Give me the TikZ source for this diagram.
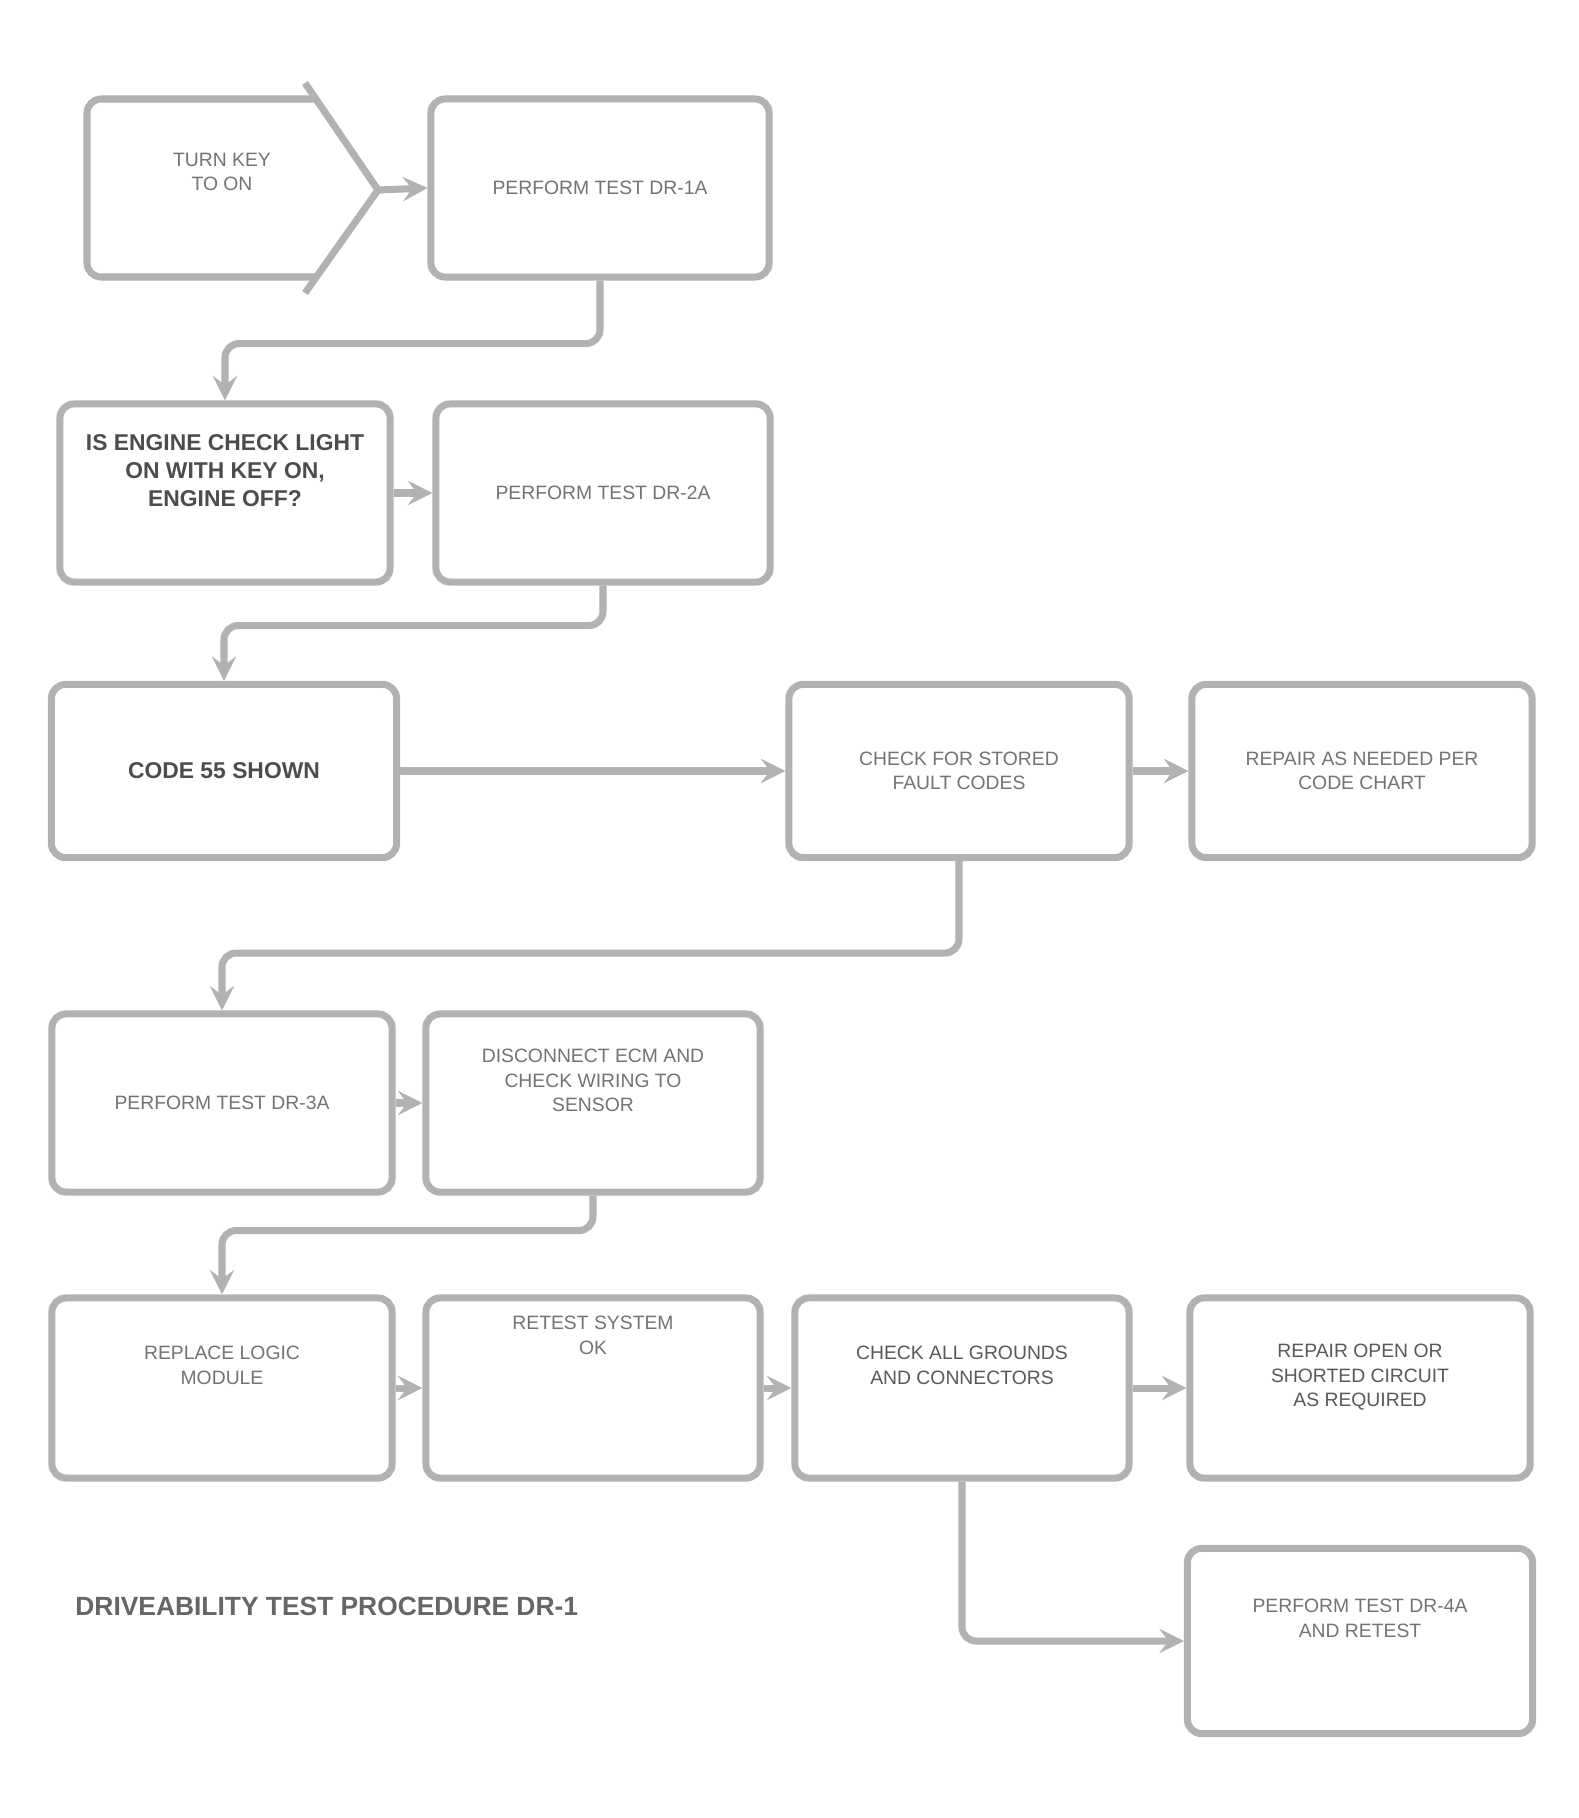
\documentclass[tikz,border=0pt]{standalone}
\usepackage{fontspec}
\setmainfont{Liberation Sans}
\usetikzlibrary{arrows,positioning,calc}

\begin{document}
\begin{tikzpicture}[x=0.01cm, y=-0.01cm,
    box/.style={draw=black!30, line width=2pt, rounded corners=4pt, align=center,
        text=black!55, font=\fontsize{5.5}{7}\selectfont,
        minimum width=3.38cm, minimum height=1.78cm, inner sep=2pt},
    keybox/.style={box, text=black!70, font=\fontsize{6.5}{8}\selectfont\bfseries},
    uptext/.style={text depth=0.45cm},
    flow/.style={draw=black!30, line width=2pt, rounded corners=4pt, ->, >=stealth}]

    % Page
    \fill[white] (0,0) rectangle (1579,1818);
    \useasboundingbox (0,0) rectangle (1579,1818);

    % Start symbol
    \draw[draw=black!30, line width=2pt, rounded corners=4pt] (316,99) -- (87,99) -- (87,277) -- (316,277);
    \draw[draw=black!30, line width=2pt] (305,83) -- (378,190) -- (305,293);
    \coordinate (tip) at (378,190);
    \node[align=center, text=black!55, font=\fontsize{5.5}{7}\selectfont] (start) at (222,172) {TURN KEY\\TO ON};

    % Row 1 and 2
    \node[box] (b2) at (600,188) {PERFORM TEST DR-1A};
    \node[keybox, uptext, minimum width=3.3cm] (b3) at (225,493) {IS ENGINE CHECK LIGHT\\ON WITH KEY ON,\\ENGINE OFF?};
    \node[box, minimum width=3.34cm] (b4) at (603,493) {PERFORM TEST DR-2A};

    % Row 3
    \node[keybox, minimum width=3.45cm, minimum height=1.73cm] (b5) at (224,771) {CODE 55 SHOWN};
    \node[box, minimum width=3.4cm, minimum height=1.73cm] (b6) at (959,771) {CHECK FOR STORED\\FAULT CODES};
    \node[box, minimum width=3.4cm, minimum height=1.73cm] (b7) at (1362,771) {REPAIR AS NEEDED PER\\CODE CHART};

    % Row 4
    \node[box, minimum width=3.4cm] (b8) at (222,1103) {PERFORM TEST DR-3A};
    \node[box, uptext, minimum width=3.34cm] (b9) at (593,1103) {DISCONNECT ECM AND\\CHECK WIRING TO\\SENSOR};

    % Row 5
    \node[box, uptext, minimum width=3.4cm, minimum height=1.8cm] (b10) at (222,1388) {REPLACE LOGIC\\MODULE};
    \node[box, text depth=1.05cm, minimum width=3.34cm, minimum height=1.8cm] (b11) at (593,1388) {RETEST SYSTEM\\OK};
    \node[box, uptext, minimum width=3.34cm, minimum height=1.8cm, text=black!65] (b12) at (962,1388) {CHECK ALL GROUNDS\\AND CONNECTORS};
    \node[box, text depth=0.25cm, minimum width=3.4cm, minimum height=1.8cm, text=black!65] (b13) at (1360,1388) {REPAIR OPEN OR\\SHORTED CIRCUIT\\AS REQUIRED};
    \node[box, uptext, minimum width=3.45cm, minimum height=1.85cm] (b14) at (1360,1641) {PERFORM TEST DR-4A\\AND RETEST};

    % Connectors
    \draw[flow] (tip) -- (b2.west);
    \draw[flow] (b2.south) -- ++(0,63) -| (b3.north);
    \draw[flow] (b3.east) -- (b4.west);
    \draw[flow] (b4.south) -- ++(0,40) -| (b5.north);
    \draw[flow] (b5.east) -- (b6.west);
    \draw[flow] (b6.east) -- (b7.west);
    \draw[flow] (b6.south) -- ++(0,92) -| (b8.north);
    \draw[flow] (b8.east) -- (b9.west);
    \draw[flow] (b9.south) -- ++(0,35) -| (b10.north);
    \draw[flow] (b10.east) -- (b11.west);
    \draw[flow] (b11.east) -- (b12.west);
    \draw[flow] (b12.east) -- (b13.west);
    \draw[flow] (b12.south) |- (b14.west);

    % Title
    \node[anchor=west, text=black!60, font=\fontsize{7.5}{9}\selectfont\bfseries] (title) at (63,1606) {DRIVEABILITY TEST PROCEDURE DR-1};

\end{tikzpicture}
\end{document}
